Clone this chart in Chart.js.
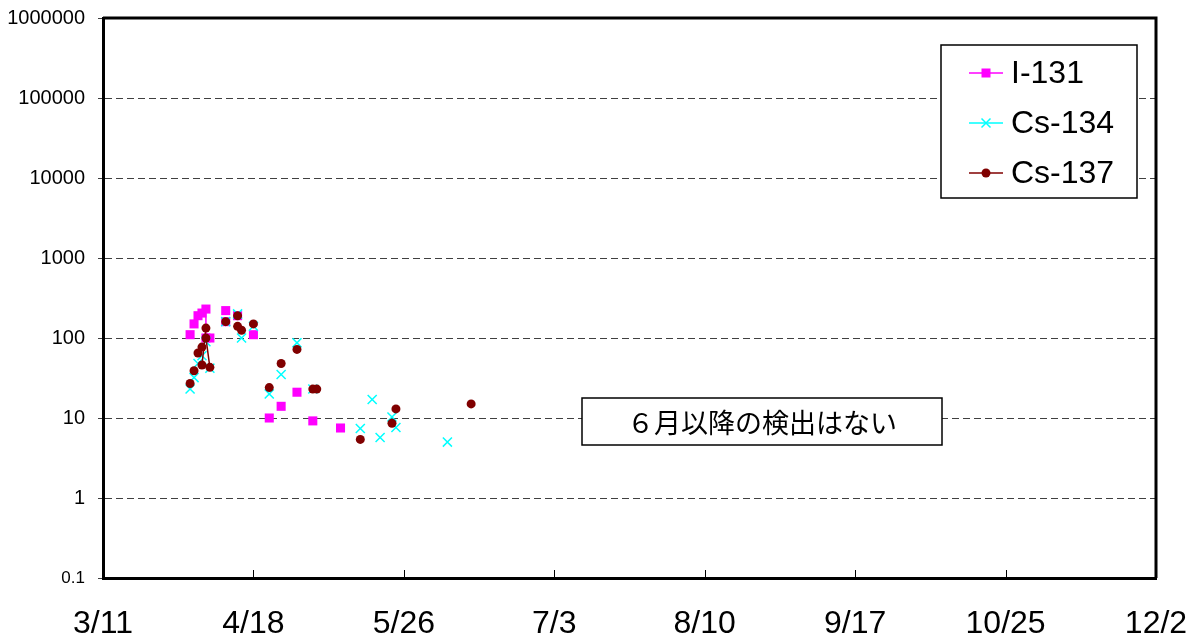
<!DOCTYPE html>
<html>
<head>
<meta charset="utf-8">
<script src="https://cdn.jsdelivr.net/npm/chart.js@4/dist/chart.umd.min.js"></script>
<style>
html, body { margin: 0; padding: 0; background: #fff; }
#marco { width: 1201px; height: 637px; position: relative; }
</style>
</head>
<body>
<div id="marco"><canvas id="grafico"></canvas></div>
<script>
// datos (Bq/kg, fechas 2011)
var seriesNames = ['I-131', 'Cs-134', 'Cs-137'];

var i131Dates  = ['4/2', '4/3', '4/4', '4/5', '4/6', '4/6', '4/7', '4/11', '4/11', '4/14', '4/18', '4/22', '4/25', '4/29', '5/3', '5/10'];
var i131Values = [110, 150, 190, 205, 230, 100, 100, 220, 160, 190, 110, 10, 14, 21, 9.2, 7.5];

var cs134Dates  = ['4/2', '4/3', '4/4', '4/5', '4/6', '4/7', '4/11', '4/14', '4/15', '4/18', '4/22', '4/25', '4/29', '5/3', '5/15', '5/18', '5/20', '5/23', '5/24', '6/6'];
var cs134Values = [23, 32, 48, 60, 90, 42, 160, 200, 100, 140, 20, 35, 87, 23, 7.4, 17, 5.7, 10.3, 7.6, 5.0];

var cs137Dates  = ['4/2', '4/3', '4/4', '4/5', '4/5', '4/6', '4/6', '4/7', '4/11', '4/14', '4/14', '4/15', '4/18', '4/22', '4/25', '4/29', '5/3', '5/4', '5/15', '5/23', '5/24', '6/12'];
var cs137Values = [27, 39, 65, 77, 46, 133, 100, 43, 160, 190, 140, 125, 150, 24, 48, 72, 23, 23, 5.4, 8.6, 13, 15];

// tramos unidos con linea (null = corte)
var i131LinkDates   = ['4/6', '4/6'];
var i131LinkValues  = [230, 100];
var cs137LinkDates  = ['4/5', '4/6', null, '4/6', '4/7'];
var cs137LinkValues = [46, 133, null, 100, 43];

var xTickLabels = ['3/11', '4/18', '5/26', '7/3', '8/10', '9/17', '10/25', '12/2'];
var yTickValues = [0.1, 1, 10, 100, 1000, 10000, 100000, 1000000];
var noteText = '６月以降の検出はない';

var colores = ['#FF00FF', '#00FFFF', '#800000'];

var DIA = 86400000;
var inicio = Date.UTC(2011, 2, 11);

var toDay = function(s){
  var p = s.split('/');
  return (Date.UTC(2011, +p[0] - 1, +p[1]) - inicio) / DIA;
};

var dayLabel = function(d){
  var t = new Date(inicio + Math.round(d) * DIA);
  return (t.getUTCMonth() + 1) + '/' + t.getUTCDate();
};

var puntos = function(dates, values){
  var prev = 0;
  return dates.map(function(d, i){
    if (d === null) return {x: prev, y: null};
    prev = toDay(d);
    return {x: prev, y: values[i]};
  });
};

//--------------------------------------------------------------------------------------
// marcadores para la leyenda
//--------------------------------------------------------------------------------------
var dibujarMarca = function(ctx, tipo, x, y, color){
  ctx.save();
  ctx.fillStyle = color;
  ctx.strokeStyle = color;
  if (tipo === 'rect') {
    ctx.fillRect(x - 4.5, y - 4.5, 9, 9);
  } else if (tipo === 'cross') {
    ctx.lineWidth = 1.5;
    ctx.beginPath();
    ctx.moveTo(x - 4.5, y - 4.5); ctx.lineTo(x + 4.5, y + 4.5);
    ctx.moveTo(x + 4.5, y - 4.5); ctx.lineTo(x - 4.5, y + 4.5);
    ctx.stroke();
  } else {
    ctx.beginPath();
    ctx.arc(x, y, 4.5, 0, Math.PI * 2);
    ctx.fill();
  }
  ctx.restore();
};

var marcoPlugin = {
  id: 'marco',
  afterDraw: function(chart){
    var ctx = chart.ctx;
    var a = chart.chartArea;
    var sx = chart.scales.x;

    ctx.save();
    // borde superior y derecho
    ctx.strokeStyle = '#000';
    ctx.lineWidth = 3;
    ctx.beginPath();
    ctx.moveTo(a.left, a.top);
    ctx.lineTo(a.right, a.top);
    ctx.lineTo(a.right, a.bottom);
    ctx.stroke();

    // marcas del eje x hacia adentro
    ctx.lineWidth = 1;
    sx.ticks.forEach(function(t, i){
      if (i === 0 || i === sx.ticks.length - 1) return;
      var px = Math.round(sx.getPixelForValue(t.value)) + 0.5;
      ctx.beginPath();
      ctx.moveTo(px, a.bottom);
      ctx.lineTo(px, a.bottom - 8);
      ctx.stroke();
    });

    // leyenda
    var lx = a.right - 215, ly = a.top + 27, lw = 196, lh = 153;
    ctx.fillStyle = '#fff';
    ctx.fillRect(lx, ly, lw, lh);
    ctx.strokeStyle = '#000';
    ctx.lineWidth = 1.5;
    ctx.strokeRect(lx, ly, lw, lh);
    var tipos = ['rect', 'cross', 'circle'];
    ctx.font = '32px "Liberation Sans", Arial, sans-serif';
    ctx.textBaseline = 'middle';
    ctx.textAlign = 'left';
    seriesNames.forEach(function(n, i){
      var y = ly + 28 + i * 50;
      ctx.strokeStyle = colores[i];
      ctx.lineWidth = 1.5;
      ctx.beginPath();
      ctx.moveTo(lx + 28, y);
      ctx.lineTo(lx + 62, y);
      ctx.stroke();
      dibujarMarca(ctx, tipos[i], lx + 45, y, colores[i]);
      ctx.fillStyle = '#000';
      ctx.fillText(n, lx + 70, y + 1);
    });

    // nota
    var nx = 582, ny = 398, nw = 360, nh = 47;
    ctx.fillStyle = '#fff';
    ctx.fillRect(nx, ny, nw, nh);
    ctx.strokeStyle = '#000';
    ctx.lineWidth = 1.5;
    ctx.strokeRect(nx, ny, nw, nh);
    ctx.fillStyle = '#000';
    ctx.font = '27px "Noto Sans CJK JP", sans-serif';
    ctx.textAlign = 'center';
    ctx.fillText(noteText, nx + nw / 2, ny + nh / 2 + 1);
    ctx.restore();
  }
};

var ctx = document.getElementById('grafico').getContext('2d');
var grafico = new Chart(ctx, {
  type: 'scatter',
  data: {
    datasets: [
      {
        label: seriesNames[0],
        data: puntos(i131Dates, i131Values),
        pointStyle: 'rect',
        pointRadius: 6.4,
        backgroundColor: colores[0],
        borderColor: colores[0],
        borderWidth: 0,
        order: 4
      },
      {
        label: seriesNames[1],
        data: puntos(cs134Dates, cs134Values),
        pointStyle: 'crossRot',
        pointRadius: 6.4,
        backgroundColor: colores[1],
        borderColor: colores[1],
        borderWidth: 1.5,
        order: 2
      },
      {
        label: seriesNames[2],
        data: puntos(cs137Dates, cs137Values),
        pointStyle: 'circle',
        pointRadius: 4.5,
        backgroundColor: colores[2],
        borderColor: colores[2],
        borderWidth: 0,
        order: 0
      },
      {
        label: 'i131-tramo',
        data: puntos(i131LinkDates, i131LinkValues),
        showLine: true,
        pointRadius: 0,
        borderColor: colores[0],
        borderWidth: 1.5,
        spanGaps: false,
        order: 5
      },
      {
        label: 'cs137-tramo',
        data: puntos(cs137LinkDates, cs137LinkValues),
        showLine: true,
        pointRadius: 0,
        borderColor: colores[2],
        borderWidth: 1.5,
        spanGaps: false,
        order: 1
      }
    ]
  },
  options: {
    responsive: true,
    maintainAspectRatio: false,
    animation: false,
    layout: { padding: { top: 18, right: 45, left: 0, bottom: 0 } },
    plugins: {
      legend: { display: false },
      tooltip: { enabled: false }
    },
    scales: {
      x: {
        type: 'linear',
        min: 0,
        max: toDay('12/2'),
        afterBuildTicks: function(s){
          s.ticks = xTickLabels.map(function(l){ return {value: toDay(l)}; });
        },
        afterFit: function(s){
          s.height = 59;
          s.paddingLeft = 0;
          s.paddingRight = 0;
        },
        grid: { display: false, drawTicks: false },
        border: { display: true, color: '#000', width: 3 },
        ticks: {
          autoSkip: false,
          maxRotation: 0,
          padding: 27,
          color: '#000',
          font: { family: '"Liberation Sans", Arial, sans-serif', size: 32 },
          callback: function(v){ return dayLabel(v); }
        }
      },
      y: {
        type: 'logarithmic',
        min: 0.1,
        max: 1000000,
        afterBuildTicks: function(s){
          s.ticks = yTickValues.map(function(v){ return {value: v}; });
        },
        afterFit: function(s){
          s.width = 103;
          s.paddingTop = 0;
          s.paddingBottom = 0;
        },
        grid: { color: '#404040', lineWidth: 1, tickLength: 5, drawTicks: true },
        border: { display: true, color: '#000', width: 3, dash: [7, 4] },
        ticks: {
          padding: 13,
          color: '#000',
          font: function(c){
            var tam = (c.tick && c.tick.value < 1) ? 17 : 20;
            return { family: '"Liberation Sans", Arial, sans-serif', size: tam };
          },
          callback: function(v){ return String(v); }
        }
      }
    }
  },
  plugins: [marcoPlugin]
});
</script>
</body>
</html>
